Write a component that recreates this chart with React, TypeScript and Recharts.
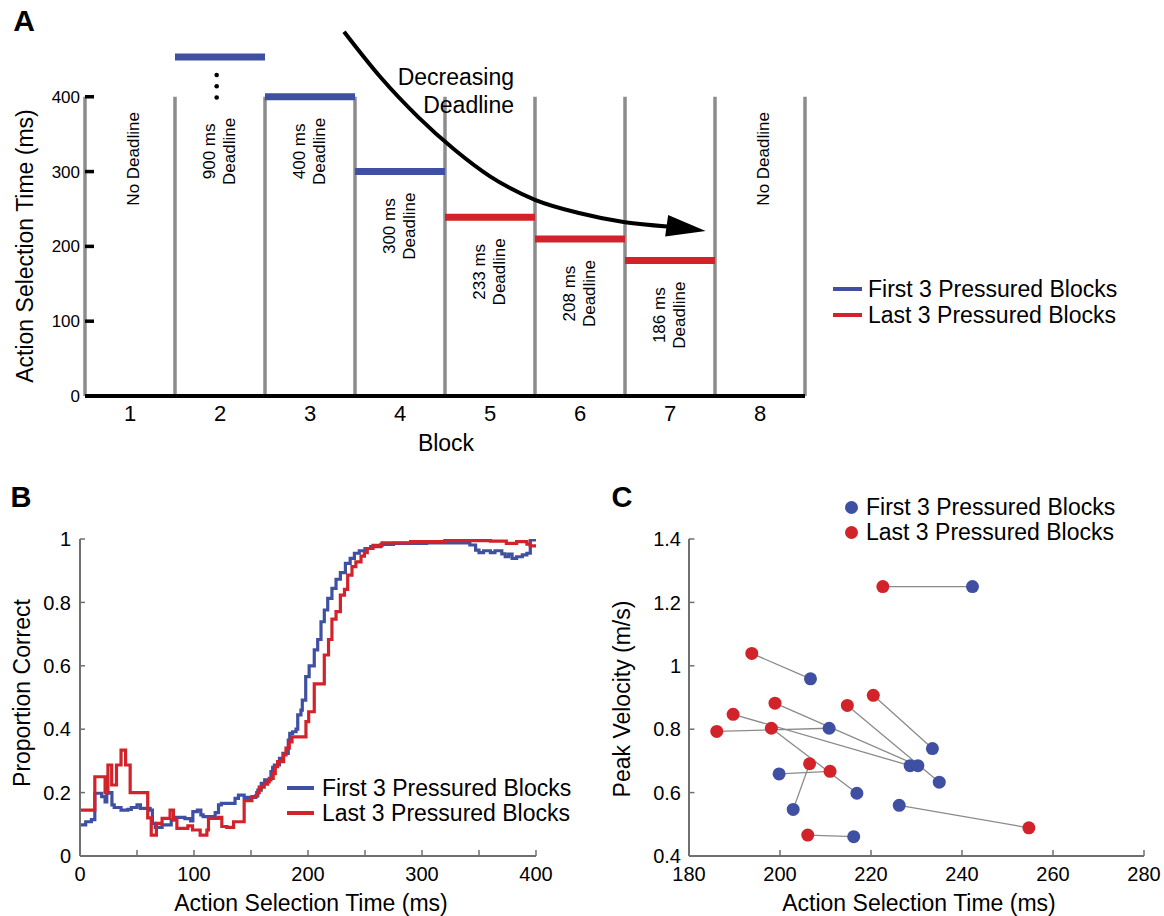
import React from 'react';
import { ComposedChart, Line, Scatter, XAxis, YAxis, ReferenceLine, ReferenceDot } from 'recharts';

const FONT = '"Liberation Sans", Arial, Helvetica, sans-serif';
const BLUE = '#3f50a2';
const RED = '#d2232a';
const LINE_GRAY = '#8c8c8c';
const AXIS_GRAY = '#6f6f6f';
const PAIR_GRAY = '#8a8a8a';

// ---- Panel A: deadlines per block ----
const blocks = [1, 2, 3, 4, 5, 6, 7, 8];
const blockLabels = [
  ['No Deadline'],
  ['900 ms', 'Deadline'],
  ['400 ms', 'Deadline'],
  ['300 ms', 'Deadline'],
  ['233 ms', 'Deadline'],
  ['208 ms', 'Deadline'],
  ['186 ms', 'Deadline'],
  ['No Deadline'],
];
// level drawn in the plot (block 2 is drawn above the broken axis)
const deadlineLevels = [null, 453, 400, 300, 239, 210, 181, null];
const levelGroup = [null, 'first', 'first', 'first', 'last', 'last', 'last', null];
const blockBoundaries = [0.5, 1.5, 2.5, 3.5, 4.5, 5.5, 6.5, 7.5, 8.5];
const yTicksA = [0, 100, 200, 300, 400];
const ellipsisY = [429, 414, 399];
// "Decreasing Deadline" arrow path (block, ms)
const arrowX = [3.378, 3.789, 4.2, 4.6, 5.0, 5.5, 6.0, 6.5, 6.967];
const arrowY = [487, 425.4, 373.2, 329.8, 293.6, 262.3, 244.3, 232.2, 226.6];
const arrowTip = { x: 7.396, y: 220.7 };

// ---- Panel B: proportion correct vs action selection time ----
const firstCurve = [
  [0, 0.098], [5, 0.108], [10, 0.115], [13, 0.198], [19, 0.187], [22, 0.171], [23.5, 0.198],
  [25, 0.2], [28, 0.161], [30, 0.153], [36, 0.145], [42, 0.147], [45, 0.153], [50, 0.161],
  [53, 0.15], [61.5, 0.145], [63.5, 0.103], [66, 0.09], [72, 0.098], [80, 0.114], [83, 0.122],
  [92, 0.118], [97, 0.111], [99, 0.14], [103, 0.145], [106, 0.13], [108, 0.124], [118.6, 0.137],
  [121.5, 0.161], [124, 0.166], [136, 0.182], [139, 0.192], [144, 0.185], [154, 0.19],
  [156, 0.208], [159, 0.229], [162, 0.24], [167.5, 0.266], [169, 0.28], [170.5, 0.287],
  [175, 0.308], [178, 0.324], [182.7, 0.366], [184, 0.387], [186.5, 0.392], [189.5, 0.4],
  [191, 0.445], [193.8, 0.46], [195, 0.492], [198, 0.566], [201, 0.6], [205.5, 0.65],
  [208.5, 0.683], [211.4, 0.739], [214.3, 0.776], [217.3, 0.813], [221, 0.844], [224.6, 0.873],
  [228.4, 0.894], [232.8, 0.923], [237, 0.939], [240.7, 0.955], [245, 0.963], [250, 0.97],
  [255, 0.976], [264, 0.983], [275, 0.986], [304, 0.988], [334, 0.988], [342, 0.981],
  [347, 0.965], [350, 0.957], [354, 0.963], [360, 0.957], [364, 0.963], [370, 0.953],
  [373, 0.944], [376, 0.952], [379, 0.939], [383, 0.944], [388, 0.95], [392, 0.955],
  [395, 0.997], [400, 0.997],
];
const lastCurve = [
  [0, 0.145], [13, 0.25], [22, 0.2], [24.5, 0.287], [27.8, 0.224], [32, 0.287], [36, 0.334],
  [40, 0.287], [44, 0.2], [59.4, 0.12], [62.5, 0.066], [67, 0.103], [72, 0.119], [79, 0.145],
  [82, 0.114], [85, 0.087], [94.6, 0.095], [98.7, 0.082], [105.4, 0.066], [111.3, 0.082],
  [112.7, 0.119], [121.5, 0.122], [124.4, 0.093], [128.8, 0.09], [134.7, 0.108], [144, 0.175],
  [150.8, 0.187], [155, 0.2], [157.2, 0.217], [161.6, 0.227], [164.6, 0.234], [166, 0.245],
  [169.5, 0.26], [171.3, 0.282], [173.3, 0.298], [178.6, 0.319], [180.7, 0.34], [183.6, 0.36],
  [186, 0.376], [198.2, 0.424], [200.6, 0.455], [205.5, 0.543], [214.3, 0.634], [218, 0.683],
  [221, 0.747], [224.6, 0.771], [228.4, 0.823], [232, 0.841], [234.8, 0.886], [238.6, 0.913],
  [242, 0.928], [246.5, 0.946], [249.5, 0.957], [252, 0.97], [257, 0.98], [265, 0.988],
  [290, 0.992], [320, 0.995], [360, 0.993], [374, 0.986], [383, 0.992], [392, 0.984],
  [395, 0.978], [400, 0.978],
];
const xTicksB = [0, 100, 200, 300, 400];
const xMinorB = [50, 100, 150, 200, 250, 300, 350, 400];
const yTicksB = [0, 0.2, 0.4, 0.6, 0.8, 1];

// ---- Panel C: peak velocity, paired per participant ----
const firstTime = [242.3, 206.7, 233.5, 235.0, 230.3, 228.6, 210.8, 216.9, 202.9, 199.8, 226.2, 216.2];
const firstVel = [1.25, 0.959, 0.739, 0.633, 0.685, 0.685, 0.803, 0.598, 0.547, 0.659, 0.56, 0.461];
const lastTime = [222.6, 193.8, 220.5, 214.8, 198.9, 189.7, 186.1, 198.1, 206.5, 211.0, 254.7, 206.1];
const lastVel = [1.25, 1.039, 0.907, 0.875, 0.882, 0.847, 0.793, 0.803, 0.691, 0.667, 0.489, 0.466];
const xTicksC = [180, 200, 220, 240, 260, 280];
const yTicksC = [0.4, 0.6, 0.8, 1, 1.2, 1.4];

const legendNames = ['First 3 Pressured Blocks', 'Last 3 Pressured Blocks'];

const Txt = ({ x, y, size = 23, rotate = false, bold = false, children }: any) => (
  <div
    style={{
      position: 'absolute', left: x, top: y, whiteSpace: 'nowrap', lineHeight: 1,
      transform: `translate(-50%, -50%)${rotate ? ' rotate(-90deg)' : ''}`,
      fontSize: size, fontFamily: FONT, fontWeight: bold ? 'bold' : 'normal', color: '#000',
    }}
  >
    {children}
  </div>
);

const LegendBox = ({ markX, textX, rows, marker }: any) => (
  <>
    {rows.map((rowY: number, i: number) => {
      const color = i === 0 ? BLUE : RED;
      return (
        <React.Fragment key={i}>
          {marker === 'dot' ? (
            <div style={{ position: 'absolute', left: markX - 6.5, top: rowY - 6.5, width: 13, height: 13, borderRadius: '50%', background: color }} />
          ) : (
            <div style={{ position: 'absolute', left: markX[0], top: rowY - 2, width: markX[1] - markX[0], height: 4, background: color }} />
          )}
          <div style={{ position: 'absolute', left: textX, top: rowY, transform: 'translateY(-50%)', fontSize: 23, lineHeight: 1, fontFamily: FONT, whiteSpace: 'nowrap' }}>
            {legendNames[i]}
          </div>
        </React.Fragment>
      );
    })}
  </>
);

const BlockLabel = (props: any) => {
  const { cx, cy, payload } = props;
  const lines: string[] = payload.lines;
  const offsets = lines.length === 1 ? [9.2] : [-5.3, 15.2];
  return (
    <text transform={`rotate(-90 ${cx} ${cy})`} fontSize={17} fontFamily={FONT} fill="#000" textAnchor="middle">
      {lines.map((l, i) => (
        <tspan key={i} x={cx} y={cy + offsets[i]}>{l}</tspan>
      ))}
    </text>
  );
};

const ArrowHead = (props: any) => {
  const { cx, cy } = props;
  return <polygon points={`${cx},${cy} ${cx - 37.5},${cy - 16} ${cx - 40.5},${cy + 5.5}`} fill="#000" />;
};

const Dot = (color: string) => (props: any) => <circle cx={props.cx} cy={props.cy} r={6.5} fill={color} />;
const NoShape = () => <g />;

const PanelA = () => {
  const labelData = blocks.map((b, i) => {
    const lvl = deadlineLevels[i];
    return { x: b, y: lvl == null ? 400 - 83 : Math.min(lvl, 400) - 73, lines: blockLabels[i] };
  });
  const arrowData = arrowX.map((x, i) => ({ x, y: arrowY[i] }));
  return (
    <ComposedChart width={830} height={460} margin={{ top: 7, right: 25, bottom: 0, left: 25 }}>
      <XAxis
        type="number" dataKey="x" domain={[0.5, 8.5]} ticks={blocks} allowDataOverflow
        axisLine={{ stroke: '#000', strokeWidth: 4 }} tickLine={false} tickSize={0} tickMargin={9} height={64}
        tick={{ fontSize: 22, fill: '#000', fontFamily: FONT }}
      />
      <YAxis
        type="number" domain={[0, 520]} ticks={yTicksA} allowDataOverflow width={60}
        axisLine={false} tickLine={false} tickSize={0} tickMargin={5}
        tick={{ fontSize: 17, fill: '#000', fontFamily: FONT }}
      />
      {blockBoundaries.map((bx) => (
        <ReferenceLine key={`v${bx}`} segment={[{ x: bx, y: 0 }, { x: bx, y: 400 }]} stroke={LINE_GRAY} strokeWidth={3.5} />
      ))}
      {yTicksA.filter((t) => t > 0).map((t) => (
        <ReferenceLine key={`t${t}`} segment={[{ x: 0.5, y: t }, { x: 0.6, y: t }]} stroke="#000" strokeWidth={3.5} />
      ))}
      {blocks.map((b, i) =>
        deadlineLevels[i] == null ? null : (
          <ReferenceLine
            key={`d${b}`}
            segment={[{ x: b - 0.5, y: deadlineLevels[i] as number }, { x: b + 0.5, y: deadlineLevels[i] as number }]}
            stroke={levelGroup[i] === 'first' ? BLUE : RED}
            strokeWidth={7}
          />
        )
      )}
      {ellipsisY.map((v) => (
        <ReferenceDot key={`e${v}`} x={1.963} y={v} r={2.3} fill="#000" stroke="none" />
      ))}
      <Scatter data={labelData} dataKey="y" shape={BlockLabel} isAnimationActive={false} />
      <Line data={arrowData} dataKey="y" type="monotoneX" stroke="#000" strokeWidth={4} dot={false} isAnimationActive={false} />
      <Scatter data={[arrowTip]} dataKey="y" shape={ArrowHead} isAnimationActive={false} />
    </ComposedChart>
  );
};

const PanelB = () => {
  const first = firstCurve.map(([x, y]) => ({ x, y }));
  const last = lastCurve.map(([x, y]) => ({ x, y }));
  return (
    <ComposedChart width={560} height={436} margin={{ top: 59, right: 24, bottom: 0, left: 20 }}>
      <XAxis
        type="number" dataKey="x" domain={[0, 400]} ticks={xTicksB} allowDataOverflow
        axisLine={{ stroke: AXIS_GRAY, strokeWidth: 2 }} tickLine={false} tickSize={0} tickMargin={11} height={60}
        tick={{ fontSize: 20, fill: '#000', fontFamily: FONT }}
      />
      <YAxis
        type="number" domain={[0, 1]} ticks={yTicksB} allowDataOverflow width={60}
        axisLine={{ stroke: AXIS_GRAY, strokeWidth: 2 }} tickLine={false} tickSize={0} tickMargin={9}
        tick={{ fontSize: 20, fill: '#000', fontFamily: FONT }}
      />
      {xMinorB.map((t) => (
        <ReferenceLine key={`x${t}`} segment={[{ x: t, y: 0 }, { x: t, y: 0.019 }]} stroke={AXIS_GRAY} strokeWidth={1.5} />
      ))}
      {yTicksB.filter((t) => t > 0).map((t) => (
        <ReferenceLine key={`y${t}`} segment={[{ x: 0, y: t }, { x: 4.4, y: t }]} stroke={AXIS_GRAY} strokeWidth={1.5} />
      ))}
      <Line data={first} dataKey="y" type="stepAfter" stroke={BLUE} strokeWidth={3.2} dot={false} isAnimationActive={false} />
      <Line data={last} dataKey="y" type="stepAfter" stroke={RED} strokeWidth={3.2} dot={false} isAnimationActive={false} />
    </ComposedChart>
  );
};

const PanelC = () => {
  const firstPts = firstTime.map((x, i) => ({ x, y: firstVel[i] }));
  const lastPts = lastTime.map((x, i) => ({ x, y: lastVel[i] }));
  return (
    <ComposedChart width={564} height={436} margin={{ top: 59, right: 20, bottom: 0, left: 29 }}>
      <XAxis
        type="number" dataKey="x" domain={[180, 280]} ticks={xTicksC} allowDataOverflow
        axisLine={{ stroke: AXIS_GRAY, strokeWidth: 2 }} tickLine={false} tickSize={0} tickMargin={11} height={60}
        tick={{ fontSize: 20, fill: '#000', fontFamily: FONT }}
      />
      <YAxis
        type="number" domain={[0.4, 1.4]} ticks={yTicksC} allowDataOverflow width={60}
        axisLine={{ stroke: AXIS_GRAY, strokeWidth: 2 }} tickLine={false} tickSize={0} tickMargin={8}
        tick={{ fontSize: 20, fill: '#000', fontFamily: FONT }}
      />
      {xTicksC.filter((t) => t > 180).map((t) => (
        <ReferenceLine key={`x${t}`} segment={[{ x: t, y: 0.4 }, { x: t, y: 0.419 }]} stroke={AXIS_GRAY} strokeWidth={1.5} />
      ))}
      {yTicksC.filter((t) => t > 0.4).map((t) => (
        <ReferenceLine key={`y${t}`} segment={[{ x: 180, y: t }, { x: 181.2, y: t }]} stroke={AXIS_GRAY} strokeWidth={1.5} />
      ))}
      {firstPts.map((p, i) => (
        <Scatter
          key={`pair${i}`} data={[lastPts[i], p]} dataKey="y" shape={NoShape}
          line={{ stroke: PAIR_GRAY, strokeWidth: 1.3 }} isAnimationActive={false}
        />
      ))}
      <Scatter data={firstPts} dataKey="y" shape={Dot(BLUE)} isAnimationActive={false} />
      <Scatter data={lastPts} dataKey="y" shape={Dot(RED)} isAnimationActive={false} />
    </ComposedChart>
  );
};

export default function App() {
  return (
    <div style={{ position: 'absolute', left: 0, top: 0, width: 1164, height: 916, background: '#fff', fontFamily: FONT, overflow: 'hidden' }}>
      <div style={{ position: 'absolute', left: 0, top: 0 }}><PanelA /></div>
      <div style={{ position: 'absolute', left: 0, top: 480 }}><PanelB /></div>
      <div style={{ position: 'absolute', left: 600, top: 480 }}><PanelC /></div>

      <Txt x={24} y={21} size={30} bold>A</Txt>
      <Txt x={21} y={497} size={29} bold>B</Txt>
      <Txt x={622} y={497} size={29} bold>C</Txt>

      <Txt x={25} y={246} rotate>Action Selection Time (ms)</Txt>
      <Txt x={446} y={443}>Block</Txt>
      <div style={{ position: 'absolute', left: 514, top: 63, transform: 'translateX(-100%)', textAlign: 'right', fontSize: 23, lineHeight: '28px', fontFamily: FONT, whiteSpace: 'nowrap' }}>
        Decreasing<br />Deadline
      </div>
      <LegendBox markX={[833, 862]} textX={868} rows={[289, 315]} marker="line" />

      <Txt x={22} y={693} rotate>Proportion Correct</Txt>
      <Txt x={311} y={903}>Action Selection Time (ms)</Txt>
      <LegendBox markX={[287, 314]} textX={322} rows={[788, 813]} marker="line" />

      <Txt x={622} y={699} rotate>Peak Velocity (m/s)</Txt>
      <Txt x={919} y={903}>Action Selection Time (ms)</Txt>
      <LegendBox markX={851} textX={866} rows={[507, 532]} marker="dot" />
    </div>
  );
}
